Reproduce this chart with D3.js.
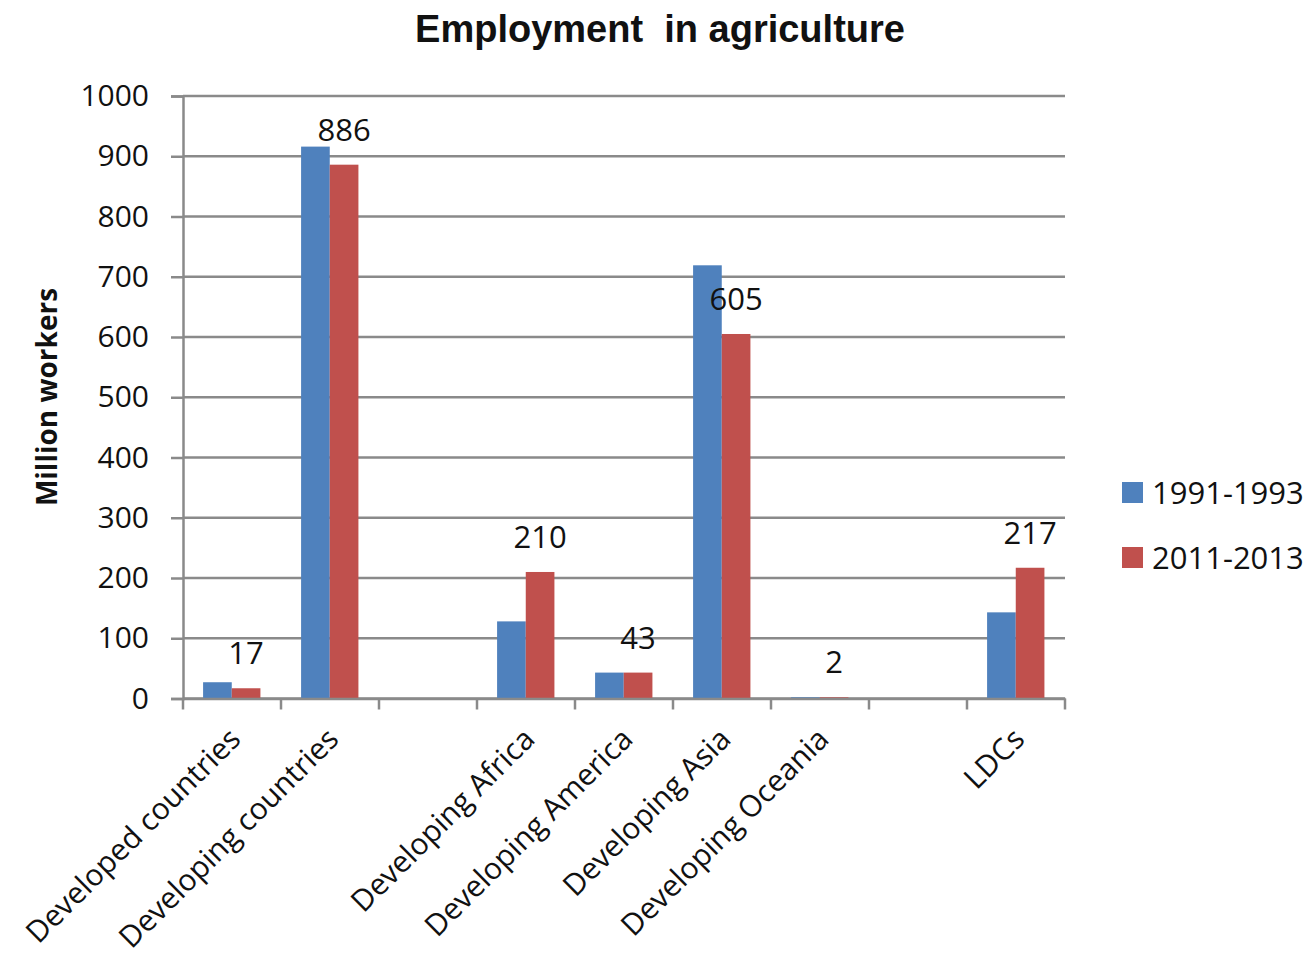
<!DOCTYPE html>
<html>
<head>
<meta charset="utf-8">
<script src="https://cdn.jsdelivr.net/npm/d3@7/dist/d3.min.js"></script>
<style>
  html, body { margin: 0; padding: 0; background: #fff; }
  svg { display: block; }
  text { fill: #111; }
</style>
</head>
<body>
<svg id="chart" width="1310" height="959"></svg>
<script>
// Category slots along the x axis (blank slots are left as gaps)
const categories = [
  "Developed countries", "Developing countries", "",
  "Developing Africa", "Developing America", "Developing Asia",
  "Developing Oceania", "", "LDCs"
];
const seriesNames = ["1991-1993", "2011-2013"];
const seriesColors = ["#4F81BD", "#C0504D"];
// Million workers employed in agriculture
const values1991 = [27, 916, null, 128, 43, 719, 2, null, 143];
const values2011 = [17, 886, null, 210, 43, 605, 2, null, 217];
const yTicks = [0, 100, 200, 300, 400, 500, 600, 700, 800, 900, 1000];

const svg = d3.select("#chart");
const m = { left: 183, right: 1065, top: 96, bottom: 698.5 };

const x = d3.scaleBand().domain(d3.range(categories.length)).range([m.left, m.right]).padding(0);
const bw = x.bandwidth();
const x1 = d3.scaleBand().domain([0, 1]).range([bw * 0.205, bw * 0.79]).padding(0);
const y = d3.scaleLinear().domain([0, 1000]).range([m.bottom, m.top]);

const gridColor = "#8a8a8a";
const labelFont = "'Open Sans', 'Noto Sans', sans-serif";

// Horizontal gridlines
svg.append("g").selectAll("line").data(yTicks).join("line")
  .attr("x1", m.left).attr("x2", m.right)
  .attr("y1", d => y(d)).attr("y2", d => y(d))
  .attr("stroke", gridColor).attr("stroke-width", 2.5);

// Y axis
const yAxis = svg.append("g").attr("transform", `translate(${m.left},0)`)
  .call(d3.axisLeft(y).tickValues(yTicks).tickSize(12).tickPadding(22).tickFormat(d3.format("d")));
yAxis.select(".domain").attr("stroke", gridColor).attr("stroke-width", 2.5);
yAxis.selectAll(".tick line").attr("stroke", gridColor).attr("stroke-width", 2.5);
yAxis.selectAll(".tick text").attr("font-family", labelFont).attr("font-size", 30).attr("fill", "#111");

// Bars
const series = [values1991, values2011];
series.forEach((vals, s) => {
  svg.append("g").selectAll("rect")
    .data(vals.map((v, i) => ({ v, i })).filter(d => d.v != null))
    .join("rect")
    .attr("x", d => x(d.i) + x1(s))
    .attr("width", x1.bandwidth())
    .attr("y", d => y(d.v))
    .attr("height", d => y(0) - y(d.v))
    .attr("fill", seriesColors[s]);
});

// Value labels for the 2011-2013 series
svg.append("g").selectAll("text")
  .data(values2011.map((v, i) => ({ v, i })).filter(d => d.v != null))
  .join("text")
  .attr("x", d => x(d.i) + x1(1) + x1.bandwidth() / 2)
  .attr("y", d => y(d.v) - 24)
  .attr("text-anchor", "middle")
  .attr("font-family", labelFont).attr("font-size", 31)
  .text(d => d.v);

// X axis
const xAxis = svg.append("g").attr("transform", `translate(0,${y(0)})`)
  .call(d3.axisBottom(x).tickSize(0).tickFormat(i => categories[i]));
xAxis.select(".domain").attr("stroke", gridColor).attr("stroke-width", 2.5);
xAxis.selectAll(".tick text")
  .attr("font-family", labelFont).attr("font-size", 30).attr("fill", "#111")
  .attr("text-anchor", "end")
  .attr("transform", "translate(3,35) rotate(-45)")
  .attr("dy", "0.35em").attr("y", 0);
// Tick marks at slot boundaries
svg.append("g").selectAll("line")
  .data(d3.range(categories.length + 1))
  .join("line")
  .attr("x1", i => m.left + i * bw).attr("x2", i => m.left + i * bw)
  .attr("y1", y(0)).attr("y2", y(0) + 11)
  .attr("stroke", gridColor).attr("stroke-width", 2.5);

// Title
svg.append("text")
  .attr("x", 660).attr("y", 42)
  .attr("text-anchor", "middle")
  .attr("font-family", "'Liberation Sans', Arial, sans-serif")
  .attr("font-weight", "bold").attr("font-size", 38)
  .attr("xml:space", "preserve")
  .text("Employment  in agriculture");

// Y axis title
svg.append("text")
  .attr("transform", `translate(57,397) rotate(-90)`)
  .attr("text-anchor", "middle")
  .attr("font-family", labelFont)
  .attr("font-weight", "bold").attr("font-size", 28)
  .text("Million workers");

// Legend
const legend = svg.append("g").selectAll("g").data(seriesNames).join("g")
  .attr("transform", (d, i) => `translate(1122,${482 + i * 65})`);
legend.append("rect").attr("width", 21).attr("height", 21).attr("fill", (d, i) => seriesColors[i]);
legend.append("text").attr("x", 30).attr("y", 11).attr("dy", "0.35em")
  .attr("font-family", labelFont).attr("font-size", 31)
  .text(d => d);
</script>
</body>
</html>
